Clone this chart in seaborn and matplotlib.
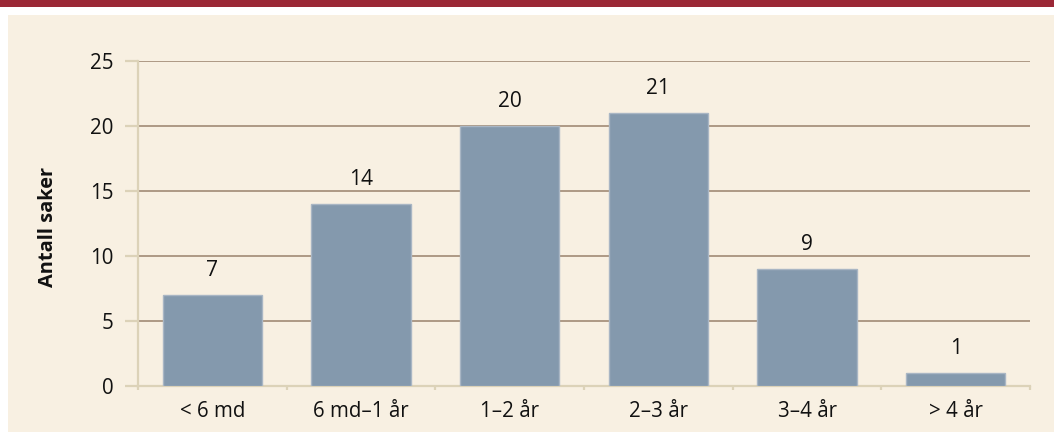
import matplotlib
matplotlib.use("Agg")
import matplotlib.pyplot as plt
import matplotlib.patches as mpatches
import seaborn as sns
import pandas as pd
import numpy as np

categories = ["< 6 md", "6 md\u20131 år", "1\u20132 år", "2\u20133 år", "3\u20134 år", "> 4 år"]
values = [7, 14, 20, 21, 9, 1]
yticks = [0, 5, 10, 15, 20, 25]
ylabel = "Antall saker"

sns.set_theme(style="white")
plt.rcParams['font.family'] = ['Open Sans', 'DejaVu Sans']

W, H = 1054, 432
fig = plt.figure(figsize=(W / 100, H / 100), dpi=100, facecolor="white")

cream = "#F8F0E2"
red = "#9B2836"
tan = "#DCD2B8"
grid = "#A8927E"
barc = "#8499AD"

fig.add_artist(mpatches.Rectangle((0, 1 - 7 / H), 1, 7 / H, transform=fig.transFigure,
                                  facecolor=red, edgecolor="none", zorder=-10))
fig.add_artist(mpatches.Rectangle((8 / W, 0), 1 - 8 / W, 1 - 15 / H, transform=fig.transFigure,
                                  facecolor=cream, edgecolor="none", zorder=-10))

left, right, top, bottom = 138, 1030, 61, 386
ax = fig.add_axes([left / W, 1 - bottom / H, (right - left) / W, (bottom - top) / H])
ax.set_facecolor("none")
ax.set_zorder(1)

df = pd.DataFrame({"cat": categories, "val": values})
sns.barplot(data=df, x="cat", y="val", color=barc, saturation=1, width=0.667,
            edgecolor="#A9B6C4", linewidth=1.0, ax=ax, zorder=3)

ax.set_xlim(-0.5, len(categories) - 0.5)
ax.set_ylim(0, 25)
ax.set_yticks(yticks)
ax.set_yticklabels([str(t) for t in yticks], fontsize=14.8, color="#111111")
for t in yticks[1:]:
    ax.axhline(t, color=grid, lw=1.3, zorder=1)

for s in ["top", "right"]:
    ax.spines[s].set_visible(False)
for s in ["left", "bottom"]:
    ax.spines[s].set_color(tan)
    ax.spines[s].set_linewidth(1.6)
    ax.spines[s].set_zorder(2)

ax.tick_params(axis="y", which="major", direction="out", length=9.4, width=1.6, color=tan, pad=8.5, left=True)
ax.set_xticks(range(len(categories)))
ax.set_xticklabels(categories, fontsize=14.8, color="#111111")
ax.tick_params(axis="x", which="major", length=0, pad=11)
ax.set_xticks(np.arange(-0.5, len(categories), 1.0), minor=True)
ax.tick_params(axis="x", which="minor", direction="out", length=3, width=1.6, color=tan, bottom=True)

ax.set_xlabel("")
ax.set_ylabel(ylabel, fontsize=14.4, fontweight="bold", color="#111111")
ax.yaxis.set_label_coords((58 - left) / (right - left), 0.49)

for c in ax.containers:
    ax.bar_label(c, labels=[str(v) for v in values], padding=10, fontsize=15, color="#111111")

fig.savefig("out.png", dpi=100, facecolor=fig.get_facecolor())
